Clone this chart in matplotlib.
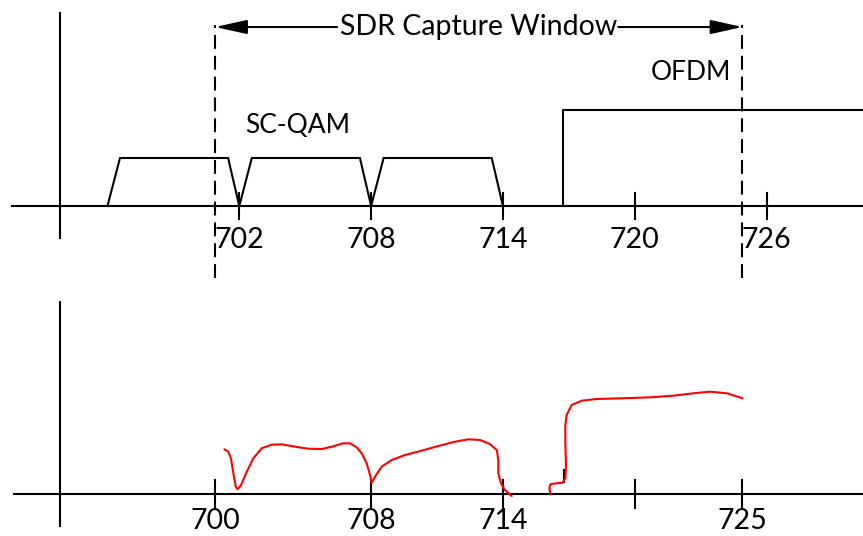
import matplotlib
matplotlib.use("Agg")
import matplotlib.pyplot as plt

plt.rcParams['font.family'] = ['Lato', 'DejaVu Sans']
plt.rcParams['lines.scale_dashes'] = False

# ---------------- data (frequency in MHz, amplitude in arbitrary units) ----------------
x_range = (691.108, 730.389)

# top panel: original spectrum
top_ticks = [702, 708, 714, 720, 726]
top_tick_labels = ['702', '708', '714', '720', '726']
sc_qam_channels = [(696, 702), (702, 708), (708, 714)]
sc_qam_level = 1.0
sc_qam_rise = 0.57
sc_qam_fall = 0.51
ofdm_start = 716.75
ofdm_level = 2.0

# SDR capture window edges
window = (700.9, 724.9)

# bottom panel: captured spectrum
bottom_ticks = [700.9, 708, 714, 720, 724.9]
bottom_tick_labels = ['700', '708', '714', '', '725']
marker_tick_x = 716.79
marker_tick_y = (0.25, 0.494)

seg1_f = [701.32, 701.50, 701.62, 701.73, 701.84, 701.93, 702.08, 702.34, 702.64, 703.02,
          703.47, 703.93, 704.54, 705.14, 705.75, 706.21, 706.73, 707.04, 707.34, 707.57,
          707.80, 707.95, 708.03, 708.18, 708.48, 708.94, 709.54, 710.30, 711.06, 711.82,
          712.42, 712.96, 713.41, 713.72, 713.79, 713.79, 713.91, 714.09, 714.40]
seg1_a = [0.925, 0.875, 0.738, 0.425, 0.146, 0.092, 0.181, 0.458, 0.738, 0.946,
          1.021, 1.029, 0.979, 0.938, 0.931, 0.979, 1.050, 1.050, 0.967, 0.842,
          0.633, 0.390, 0.229, 0.354, 0.563, 0.702, 0.806, 0.896, 0.994, 1.083,
          1.133, 1.119, 1.035, 0.910, 0.702, 0.425, 0.217, 0.077, -0.048]

seg2_f = [716.17, 716.11, 716.17, 716.45, 716.72, 716.84, 716.87, 716.84, 716.84, 716.90,
          717.13, 717.59, 718.27, 719.48, 720.69, 721.75, 722.67, 723.43, 724.19, 724.91]
seg2_a = [-0.013, 0.113, 0.202, 0.217, 0.229, 0.321, 0.598, 1.083, 1.431, 1.640,
          1.848, 1.938, 1.973, 1.988, 2.008, 2.042, 2.092, 2.125, 2.092, 1.988]

# ---------------- styling ----------------
LW = 1.5
BLACK = 'black'
RED = '#ff0000'
FS_BIG = 20.5
FS_MID = 19

fig = plt.figure(figsize=(8.63, 5.36), dpi=100)
ax_top = fig.add_axes([0, 256 / 536, 1, 280 / 536])
ax_bot = fig.add_axes([0, 0, 1, 256 / 536])
for ax in (ax_top, ax_bot):
    ax.set_xlim(*x_range)
    ax.axis('off')
ax_top.set_ylim(-1.5417, 4.2917)
ax_bot.set_ylim(-0.881, 4.452)

yaxis_x = 693.86
tick_half = 0.28

# ----- top panel -----
ax_top.plot([691.61, x_range[1]], [0, 0], color=BLACK, lw=LW, solid_capstyle='butt')
ax_top.plot([yaxis_x, yaxis_x], [-0.667, 4.02], color=BLACK, lw=LW)
for t, lab in zip(top_ticks, top_tick_labels):
    ax_top.plot([t, t], [-tick_half, tick_half], color=BLACK, lw=LW)
    ax_top.text(t, -0.881, lab, ha='center', va='baseline', fontsize=FS_BIG)

for s, e in sc_qam_channels:
    ax_top.plot([s, s + sc_qam_rise, e - sc_qam_fall, e],
                [0, sc_qam_level, sc_qam_level, 0], color=BLACK, lw=LW,
                solid_joinstyle='miter')
ax_top.plot([ofdm_start, ofdm_start, x_range[1]], [0, ofdm_level, ofdm_level],
            color=BLACK, lw=LW, solid_joinstyle='miter')

ax_top.text(702.26, 1.515, 'SC-QAM', ha='left', va='baseline', fontsize=FS_MID)
ax_top.text(722.58, 2.625, 'OFDM', ha='center', va='baseline', fontsize=FS_MID)

# capture window
for w in window:
    ax_top.plot([w, w], [-1.50, 3.77], color=BLACK, lw=LW, linestyle=(0, (10, 5)),
                clip_on=False)
arrow_y = 3.729
ax_top.text(712.88, 3.5625, 'SDR Capture Window', ha='center', va='baseline', fontsize=FS_BIG)
aprops = dict(arrowstyle='-|>,head_length=0.97,head_width=0.215', color=BLACK, lw=LW,
              shrinkA=0, shrinkB=0, mutation_scale=20)
ax_top.annotate('', xy=(window[0], arrow_y), xytext=(706.45, arrow_y), arrowprops=aprops)
ax_top.annotate('', xy=(window[1], arrow_y), xytext=(719.25, arrow_y), arrowprops=aprops)

# ----- bottom panel -----
ax_bot.plot([691.7, x_range[1]], [0, 0], color=BLACK, lw=LW, solid_capstyle='butt')
ax_bot.plot([yaxis_x, yaxis_x], [-0.673, 3.99], color=BLACK, lw=LW)
for t, lab in zip(bottom_ticks, bottom_tick_labels):
    ax_bot.plot([t, t], [-0.29, 0.29], color=BLACK, lw=LW)
    ax_bot.text(t, -0.74, lab, ha='center', va='baseline', fontsize=FS_BIG, clip_on=False)
ax_bot.plot([marker_tick_x, marker_tick_x], list(marker_tick_y), color=BLACK, lw=LW)

ax_bot.plot(seg1_f, seg1_a, color=RED, lw=LW, solid_joinstyle='round', solid_capstyle='round')
ax_bot.plot(seg2_f, seg2_a, color=RED, lw=LW, solid_joinstyle='round', solid_capstyle='round')

fig.savefig('out.png', dpi=100)
